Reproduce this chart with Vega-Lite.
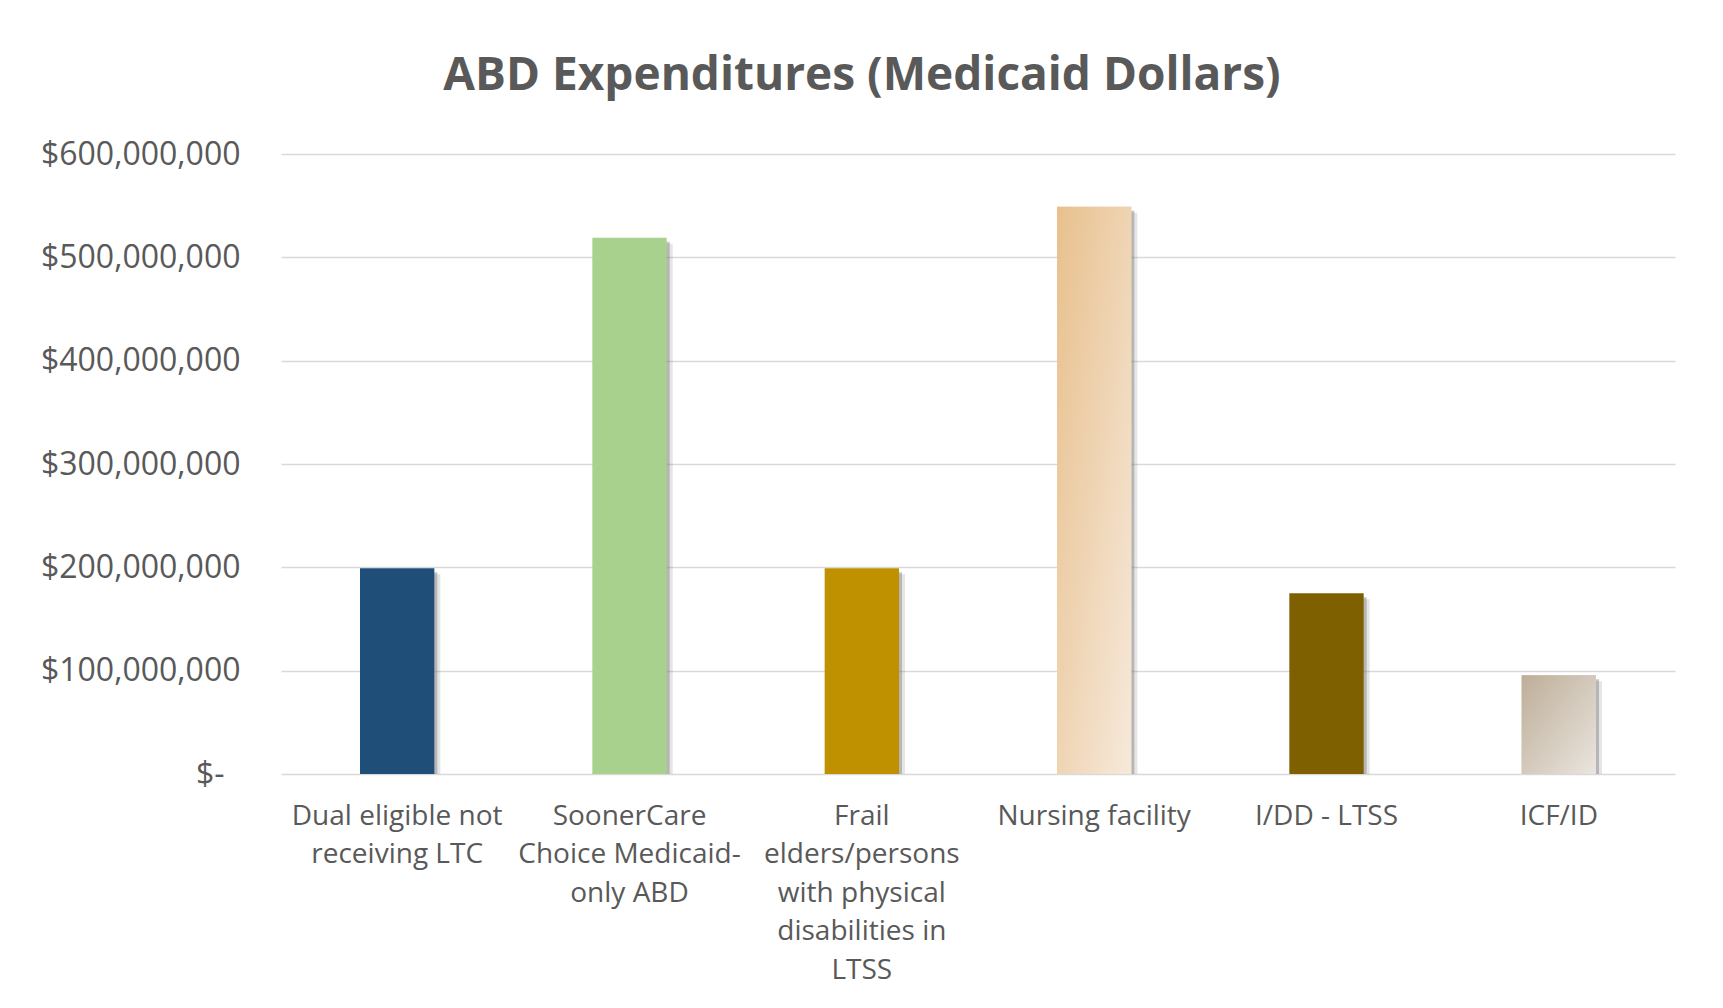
{
  "$schema": "https://vega.github.io/schema/vega-lite/v6.json",
  "width": 1394,
  "height": 620,
  "autosize": {"type": "none"},
  "padding": {"left": 281, "top": 154, "right": 48, "bottom": 234},
  "background": "white",
  "title": {
    "text": "ABD Expenditures (Medicaid Dollars)",
    "fontSize": 46,
    "font": "Open Sans",
    "fontWeight": "bold",
    "color": "#595959",
    "anchor": "middle",
    "dx": -116,
    "offset": 38
  },
  "config": {"view": {"stroke": null}, "font": "Open Sans"},
  "data": {
    "values": [
      {"category": "Dual eligible not receiving LTC", "amount": 199000000},
      {"category": "SoonerCare Choice Medicaid-only ABD", "amount": 519000000},
      {"category": "Frail elders/persons with physical disabilities in LTSS", "amount": 199000000},
      {"category": "Nursing facility", "amount": 549000000},
      {"category": "I/DD - LTSS", "amount": 175000000},
      {"category": "ICF/ID", "amount": 95500000}
    ]
  },
  "encoding": {
    "x": {
      "field": "category",
      "type": "nominal",
      "sort": null,
      "scale": {"paddingInner": 0.68, "paddingOuter": 0.34},
      "axis": {
        "title": null,
        "labelAngle": 0,
        "labelFont": "Open Sans",
        "labelFontSize": 28,
        "labelColor": "#595959",
        "labelLineHeight": 38.6,
        "labelPadding": 28,
        "labelLimit": 400,
        "ticks": false,
        "domain": false,
        "labelExpr": "datum.value == 'Dual eligible not receiving LTC' ? ['Dual eligible not', 'receiving LTC'] : datum.value == 'SoonerCare Choice Medicaid-only ABD' ? ['SoonerCare', 'Choice Medicaid-', 'only ABD'] : datum.value == 'Frail elders/persons with physical disabilities in LTSS' ? ['Frail', 'elders/persons', 'with physical', 'disabilities in', 'LTSS'] : datum.label"
      }
    },
    "y": {
      "field": "amount",
      "type": "quantitative",
      "scale": {"domain": [0, 600000000]},
      "axis": {
        "title": null,
        "values": [0, 100000000, 200000000, 300000000, 400000000, 500000000, 600000000],
        "labelExpr": "datum.value == 0 ? '$-' : '$' + format(datum.value, ',')",
        "labelFont": "Open Sans",
        "labelFontSize": 32,
        "labelColor": "#595959",
        "labelPadding": {"condition": {"test": "datum.value == 0", "value": 57}, "value": 41},
        "labelLimit": 400,
        "ticks": false,
        "domain": false,
        "gridColor": "#d9d9d9",
        "gridWidth": 1.5
      }
    }
  },
  "layer": [
    {"mark": {"type": "bar", "color": "#6f6f6f", "opacity": 0.4, "xOffset": 3, "yOffset": 4, "clip": true}},
    {"mark": {"type": "bar", "color": "#7f7f7f", "opacity": 0.2, "xOffset": 6, "yOffset": 6, "clip": true}},
    {
      "mark": {"type": "bar"},
      "encoding": {
        "color": {
          "field": "category",
          "type": "nominal",
          "scale": {
            "domain": ["Dual eligible not receiving LTC", "SoonerCare Choice Medicaid-only ABD", "Frail elders/persons with physical disabilities in LTSS", "Nursing facility", "I/DD - LTSS", "ICF/ID"],
            "range": ["#1F4E79", "#A9D18E", "#BF9000", "#EDCCA3", "#7F6000", "#D3C8BA"]
          },
          "legend": null
        }
      }
    },
    {
      "transform": [{"filter": "datum.category == 'Nursing facility'"}],
      "mark": {
        "type": "bar",
        "color": {"gradient": "linear", "x1": 0, "y1": 0, "x2": 1, "y2": 1, "stops": [{"offset": 0, "color": "#E8C08D"}, {"offset": 1, "color": "#F6E9DB"}]}
      }
    },
    {
      "transform": [{"filter": "datum.category == 'ICF/ID'"}],
      "mark": {
        "type": "bar",
        "color": {"gradient": "linear", "x1": 0, "y1": 0, "x2": 1, "y2": 1, "stops": [{"offset": 0, "color": "#BDAE98"}, {"offset": 1, "color": "#EAE5DF"}]}
      }
    }
  ]
}
